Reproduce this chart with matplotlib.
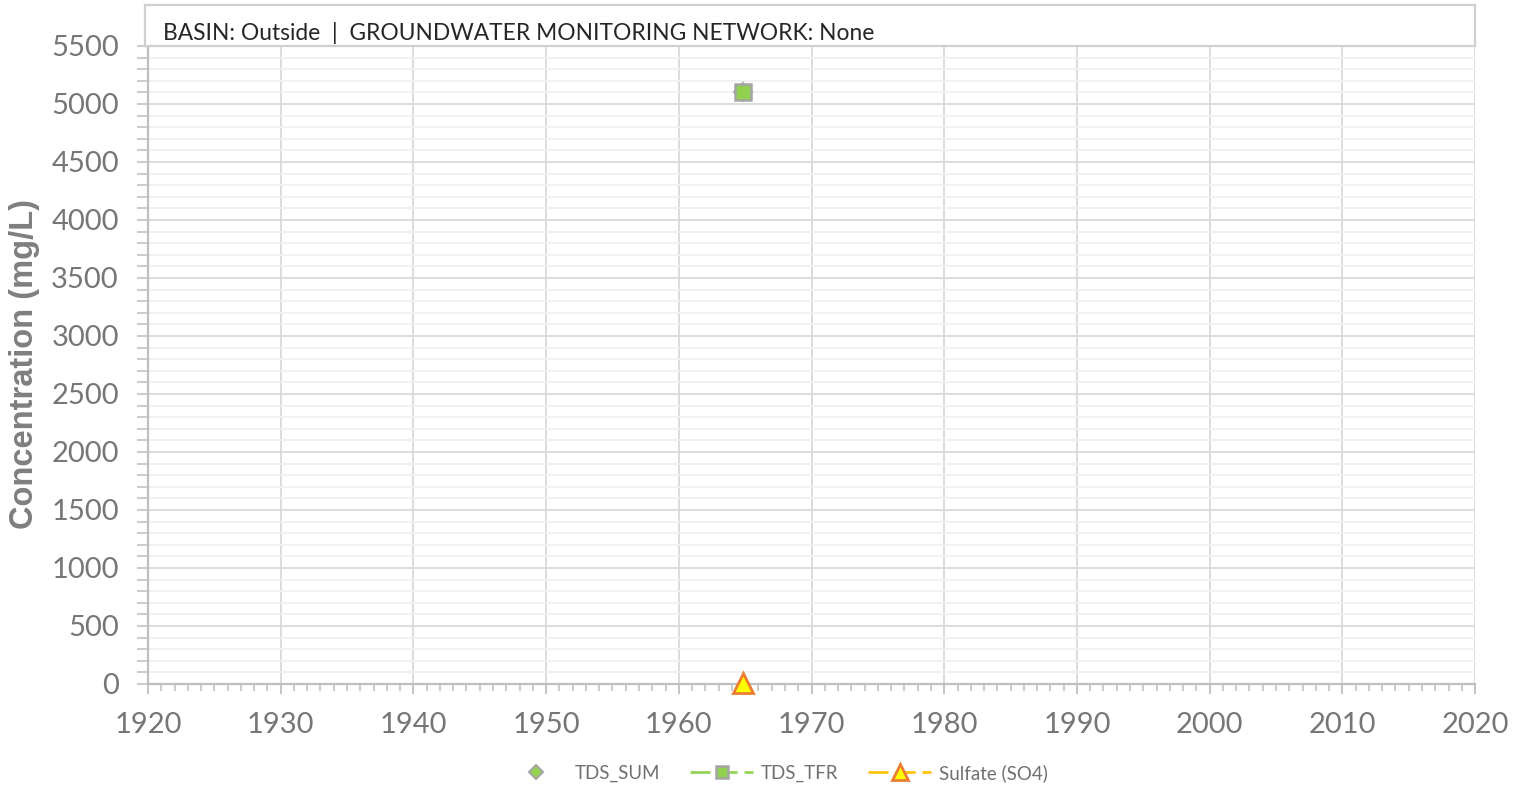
import matplotlib
matplotlib.use('Agg')
import matplotlib.pyplot as plt
from matplotlib.ticker import MultipleLocator

# sample values
years_sum = [1964.8]
tds_sum = [5100]
years_tfr = [1964.8]
tds_tfr = [5100]
years_so4 = [1964.8]
sulfate = [9]

basin = 'Outside'
network = 'None'

plt.rcParams['font.family'] = ['Lato', 'DejaVu Sans']

fig = plt.figure(figsize=(15.27, 7.89), dpi=100)
ax = fig.add_axes([0.0969, 0.1331, 0.8691, 0.8086])

grey = '#bfbfbf'
ax.grid(which='major', color='#d9d9d9', lw=1.3, zorder=0)
ax.grid(which='minor', axis='y', color='#f0f0f0', lw=1.3, zorder=0)

dash = (0, (7.6, 2.65))
ax.plot(years_sum, tds_sum, ls='none', marker='D', ms=9, mfc='#92d050',
        mec='#a5a5a5', mew=1.5, label='TDS_SUM', zorder=3)
ax.plot(years_tfr, tds_tfr, color='#92d050', lw=1.9, ls=dash,
        marker='s', ms=11, mfc='#92d050', mec='#a5a5a5', mew=1.8,
        label='TDS_TFR', zorder=4)
ax.plot(years_so4, sulfate, color='#ffc000', lw=1.9, ls=dash,
        marker='^', ms=15, mfc='#ffff00', mec='#ed7d31', mew=2,
        label='Sulfate (SO4)', zorder=5, clip_on=False)

ax.set_xlim(1920, 2020)
ax.set_ylim(0, 5500)
ax.xaxis.set_major_locator(MultipleLocator(10))
ax.xaxis.set_minor_locator(MultipleLocator(1))
ax.yaxis.set_major_locator(MultipleLocator(500))
ax.yaxis.set_minor_locator(MultipleLocator(100))

for s in ['top', 'right']:
    ax.spines[s].set_visible(False)
for s in ['left', 'bottom']:
    ax.spines[s].set_color(grey)
    ax.spines[s].set_linewidth(1.6)

ax.tick_params(axis='x', which='major', length=7, width=1.3, color=grey,
               labelsize=21, labelcolor='#767676', pad=13)
ax.tick_params(axis='x', which='minor', length=5, width=1.1, color=grey)
ax.tick_params(axis='y', which='both', length=8, width=1.1, color=grey)
ax.tick_params(axis='y', which='major', labelsize=21, labelcolor='#767676', pad=13)

fig.text(25 / 1527, 1 - 364 / 789, 'Concentration (mg/L)', rotation=90,
         ha='center', va='center', fontsize=23.5, fontweight='bold',
         color='#7f7f7f', family=['Liberation Sans', 'DejaVu Sans'])

# header box above the plot area
hb = fig.add_axes([0.095, 0.9417, 0.871, 0.052])
hb.set_xticks([])
hb.set_yticks([])
for s in hb.spines.values():
    s.set_color('#d0d0d0')
    s.set_linewidth(1.6)
hb.text(0.0135, 0.31, 'BASIN: ' + basin + '  |  GROUNDWATER MONITORING NETWORK: ' + network,
        transform=hb.transAxes, ha='left', va='center', fontsize=16.4, color='#262626')

leg = ax.legend(loc='center', bbox_to_anchor=(776 / 1527, 1 - 773 / 789),
                bbox_transform=fig.transFigure, ncol=3, frameon=False,
                fontsize=13.5, handlelength=3.36, handletextpad=0.4,
                columnspacing=1.6, markerscale=0.8)
for t in leg.get_texts():
    t.set_color('#707070')

fig.savefig('out.png', dpi=100)
